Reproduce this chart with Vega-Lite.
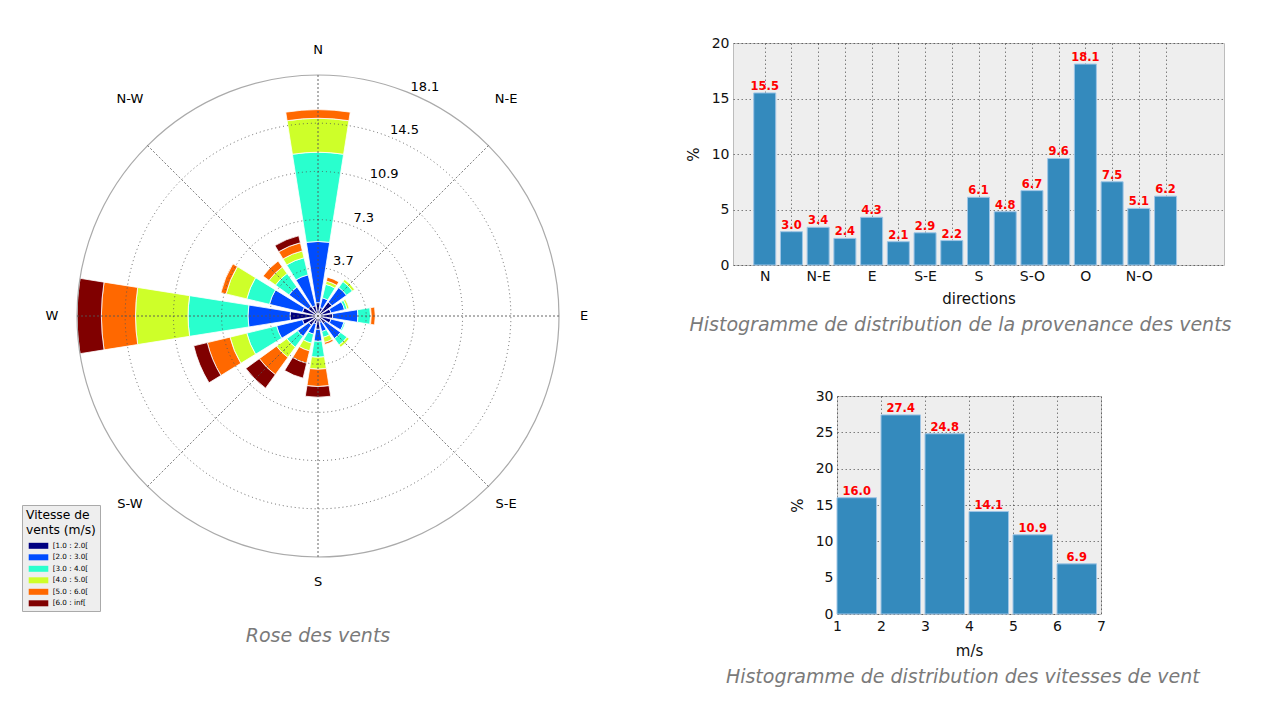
{
  "$schema": "https://vega.github.io/schema/vega-lite/v6.json",
  "padding": {"left": 10, "top": 35, "right": 0, "bottom": 0},
  "background": "white",
  "datasets": {
    "rose": [
      {"angle": 0, "speed": "[1.0 : 2.0[", "order": 1, "pct": 1.0},
      {"angle": 0, "speed": "[2.0 : 3.0[", "order": 2, "pct": 4.6},
      {"angle": 0, "speed": "[3.0 : 4.0[", "order": 3, "pct": 6.7},
      {"angle": 0, "speed": "[4.0 : 5.0[", "order": 4, "pct": 2.55},
      {"angle": 0, "speed": "[5.0 : 6.0[", "order": 5, "pct": 0.65},
      {"angle": 22.5, "speed": "[1.0 : 2.0[", "order": 1, "pct": 0.65},
      {"angle": 22.5, "speed": "[2.0 : 3.0[", "order": 2, "pct": 0.75},
      {"angle": 22.5, "speed": "[3.0 : 4.0[", "order": 3, "pct": 1.05},
      {"angle": 22.5, "speed": "[4.0 : 5.0[", "order": 4, "pct": 0.25},
      {"angle": 22.5, "speed": "[5.0 : 6.0[", "order": 5, "pct": 0.3},
      {"angle": 45, "speed": "[1.0 : 2.0[", "order": 1, "pct": 1.3},
      {"angle": 45, "speed": "[2.0 : 3.0[", "order": 2, "pct": 1.35},
      {"angle": 45, "speed": "[3.0 : 4.0[", "order": 3, "pct": 0.55},
      {"angle": 45, "speed": "[4.0 : 5.0[", "order": 4, "pct": 0.2},
      {"angle": 67.5, "speed": "[1.0 : 2.0[", "order": 1, "pct": 1.0},
      {"angle": 67.5, "speed": "[2.0 : 3.0[", "order": 2, "pct": 1.05},
      {"angle": 67.5, "speed": "[3.0 : 4.0[", "order": 3, "pct": 0.2},
      {"angle": 67.5, "speed": "[4.0 : 5.0[", "order": 4, "pct": 0.15},
      {"angle": 90, "speed": "[1.0 : 2.0[", "order": 1, "pct": 1.1},
      {"angle": 90, "speed": "[2.0 : 3.0[", "order": 2, "pct": 1.9},
      {"angle": 90, "speed": "[3.0 : 4.0[", "order": 3, "pct": 0.95},
      {"angle": 90, "speed": "[4.0 : 5.0[", "order": 4, "pct": 0.05},
      {"angle": 90, "speed": "[5.0 : 6.0[", "order": 5, "pct": 0.3},
      {"angle": 112.5, "speed": "[1.0 : 2.0[", "order": 1, "pct": 1.0},
      {"angle": 112.5, "speed": "[2.0 : 3.0[", "order": 2, "pct": 1.0},
      {"angle": 112.5, "speed": "[3.0 : 4.0[", "order": 3, "pct": 0.1},
      {"angle": 135, "speed": "[1.0 : 2.0[", "order": 1, "pct": 0.7},
      {"angle": 135, "speed": "[2.0 : 3.0[", "order": 2, "pct": 1.4},
      {"angle": 135, "speed": "[3.0 : 4.0[", "order": 3, "pct": 0.6},
      {"angle": 135, "speed": "[4.0 : 5.0[", "order": 4, "pct": 0.2},
      {"angle": 157.5, "speed": "[1.0 : 2.0[", "order": 1, "pct": 0.5},
      {"angle": 157.5, "speed": "[2.0 : 3.0[", "order": 2, "pct": 0.7},
      {"angle": 157.5, "speed": "[3.0 : 4.0[", "order": 3, "pct": 0.45},
      {"angle": 157.5, "speed": "[4.0 : 5.0[", "order": 4, "pct": 0.4},
      {"angle": 157.5, "speed": "[5.0 : 6.0[", "order": 5, "pct": 0.15},
      {"angle": 180, "speed": "[1.0 : 2.0[", "order": 1, "pct": 1.0},
      {"angle": 180, "speed": "[2.0 : 3.0[", "order": 2, "pct": 0.9},
      {"angle": 180, "speed": "[3.0 : 4.0[", "order": 3, "pct": 1.2},
      {"angle": 180, "speed": "[4.0 : 5.0[", "order": 4, "pct": 0.9},
      {"angle": 180, "speed": "[5.0 : 6.0[", "order": 5, "pct": 1.3},
      {"angle": 180, "speed": "[6.0 : inf[", "order": 6, "pct": 0.8},
      {"angle": 202.5, "speed": "[1.0 : 2.0[", "order": 1, "pct": 0.6},
      {"angle": 202.5, "speed": "[2.0 : 3.0[", "order": 2, "pct": 0.8},
      {"angle": 202.5, "speed": "[3.0 : 4.0[", "order": 3, "pct": 0.7},
      {"angle": 202.5, "speed": "[4.0 : 5.0[", "order": 4, "pct": 0.6},
      {"angle": 202.5, "speed": "[5.0 : 6.0[", "order": 5, "pct": 0.95},
      {"angle": 202.5, "speed": "[6.0 : inf[", "order": 6, "pct": 1.15},
      {"angle": 225, "speed": "[1.0 : 2.0[", "order": 1, "pct": 0.85},
      {"angle": 225, "speed": "[2.0 : 3.0[", "order": 2, "pct": 1.05},
      {"angle": 225, "speed": "[3.0 : 4.0[", "order": 3, "pct": 1.0},
      {"angle": 225, "speed": "[4.0 : 5.0[", "order": 4, "pct": 0.95},
      {"angle": 225, "speed": "[5.0 : 6.0[", "order": 5, "pct": 1.6},
      {"angle": 225, "speed": "[6.0 : inf[", "order": 6, "pct": 1.25},
      {"angle": 247.5, "speed": "[1.0 : 2.0[", "order": 1, "pct": 1.2},
      {"angle": 247.5, "speed": "[2.0 : 3.0[", "order": 2, "pct": 2.0},
      {"angle": 247.5, "speed": "[3.0 : 4.0[", "order": 3, "pct": 2.3},
      {"angle": 247.5, "speed": "[4.0 : 5.0[", "order": 4, "pct": 1.3},
      {"angle": 247.5, "speed": "[5.0 : 6.0[", "order": 5, "pct": 1.75},
      {"angle": 247.5, "speed": "[6.0 : inf[", "order": 6, "pct": 1.05},
      {"angle": 270, "speed": "[1.0 : 2.0[", "order": 1, "pct": 2.1},
      {"angle": 270, "speed": "[2.0 : 3.0[", "order": 2, "pct": 3.16},
      {"angle": 270, "speed": "[3.0 : 4.0[", "order": 3, "pct": 4.5},
      {"angle": 270, "speed": "[4.0 : 5.0[", "order": 4, "pct": 3.95},
      {"angle": 270, "speed": "[5.0 : 6.0[", "order": 5, "pct": 2.56},
      {"angle": 270, "speed": "[6.0 : inf[", "order": 6, "pct": 1.83},
      {"angle": 292.5, "speed": "[1.0 : 2.0[", "order": 1, "pct": 1.2},
      {"angle": 292.5, "speed": "[2.0 : 3.0[", "order": 2, "pct": 2.55},
      {"angle": 292.5, "speed": "[3.0 : 4.0[", "order": 3, "pct": 1.75},
      {"angle": 292.5, "speed": "[4.0 : 5.0[", "order": 4, "pct": 1.6},
      {"angle": 292.5, "speed": "[5.0 : 6.0[", "order": 5, "pct": 0.4},
      {"angle": 315, "speed": "[1.0 : 2.0[", "order": 1, "pct": 0.9},
      {"angle": 315, "speed": "[2.0 : 3.0[", "order": 2, "pct": 1.8},
      {"angle": 315, "speed": "[3.0 : 4.0[", "order": 3, "pct": 1.25},
      {"angle": 315, "speed": "[4.0 : 5.0[", "order": 4, "pct": 0.6},
      {"angle": 315, "speed": "[5.0 : 6.0[", "order": 5, "pct": 0.55},
      {"angle": 337.5, "speed": "[1.0 : 2.0[", "order": 1, "pct": 0.8},
      {"angle": 337.5, "speed": "[2.0 : 3.0[", "order": 2, "pct": 2.38},
      {"angle": 337.5, "speed": "[3.0 : 4.0[", "order": 3, "pct": 1.32},
      {"angle": 337.5, "speed": "[4.0 : 5.0[", "order": 4, "pct": 0.53},
      {"angle": 337.5, "speed": "[5.0 : 6.0[", "order": 5, "pct": 0.63},
      {"angle": 337.5, "speed": "[6.0 : inf[", "order": 6, "pct": 0.54}
    ],
    "rings": [
      {"r": 3.62, "label": "3.7"},
      {"r": 7.24, "label": "7.3"},
      {"r": 10.86, "label": "10.9"},
      {"r": 14.48, "label": "14.5"},
      {"r": 18.1, "label": "18.1"}
    ],
    "compass": [
      {"angle": 0, "label": "N"},
      {"angle": 45, "label": "N-E"},
      {"angle": 90, "label": "E"},
      {"angle": 135, "label": "S-E"},
      {"angle": 180, "label": "S"},
      {"angle": 225, "label": "S-W"},
      {"angle": 270, "label": "W"},
      {"angle": 315, "label": "N-W"}
    ],
    "dirs": [
      {"idx": 1, "dir": "N", "pct": 15.5},
      {"idx": 2, "dir": "NNE", "pct": 3.0},
      {"idx": 3, "dir": "N-E", "pct": 3.4},
      {"idx": 4, "dir": "ENE", "pct": 2.4},
      {"idx": 5, "dir": "E", "pct": 4.3},
      {"idx": 6, "dir": "ESE", "pct": 2.1},
      {"idx": 7, "dir": "S-E", "pct": 2.9},
      {"idx": 8, "dir": "SSE", "pct": 2.2},
      {"idx": 9, "dir": "S", "pct": 6.1},
      {"idx": 10, "dir": "SSO", "pct": 4.8},
      {"idx": 11, "dir": "S-O", "pct": 6.7},
      {"idx": 12, "dir": "OSO", "pct": 9.6},
      {"idx": 13, "dir": "O", "pct": 18.1},
      {"idx": 14, "dir": "ONO", "pct": 7.5},
      {"idx": 15, "dir": "N-O", "pct": 5.1},
      {"idx": 16, "dir": "NNO", "pct": 6.2}
    ],
    "speeds": [
      {"start": 1, "end": 2, "pct": 16.0},
      {"start": 2, "end": 3, "pct": 27.4},
      {"start": 3, "end": 4, "pct": 24.8},
      {"start": 4, "end": 5, "pct": 14.1},
      {"start": 5, "end": 6, "pct": 10.9},
      {"start": 6, "end": 7, "pct": 6.9}
    ]
  },
  "spacing": 59,
  "hconcat": [
    {
      "width": 616,
      "height": 546,
      "view": {"stroke": null},
      "title": {"text": "Rose des vents", "orient": "bottom", "anchor": "middle", "offset": 38},
      "layer": [
        {
          "data": {"name": "rose"},
          "transform": [
            {"stack": "pct", "groupby": ["angle"], "sort": [{"field": "order", "order": "ascending"}], "as": ["r0", "r1"]}
          ],
          "mark": {"type": "arc", "thetaOffset": -0.157, "theta2Offset": 0.157, "stroke": "white", "strokeWidth": 0.8},
          "encoding": {
            "theta": {"field": "angle", "type": "quantitative", "stack": null, "scale": {"domain": [0, 360], "range": [0, 6.283185307179586]}},
            "theta2": {"field": "angle"},
            "radius": {"field": "r1", "type": "quantitative", "stack": null, "scale": {"type": "linear", "domain": [0, 18.1], "range": [0, 241], "zero": true, "nice": false}},
            "radius2": {"field": "r0"},
            "color": {
              "field": "speed",
              "type": "nominal",
              "scale": {
                "domain": ["[1.0 : 2.0[", "[2.0 : 3.0[", "[3.0 : 4.0[", "[4.0 : 5.0[", "[5.0 : 6.0[", "[6.0 : inf["],
                "range": ["#000080", "#004cff", "#29ffce", "#ceff29", "#ff6800", "#800000"]
              },
              "legend": {
                "orient": "none",
                "legendX": 12,
                "legendY": 462,
                "title": ["Vitesse de", "vents (m/s)"],
                "titleFont": "DejaVu Sans",
                "titleFontSize": 12.3,
                "titleFontWeight": "normal",
                "titleColor": "black",
                "titleLineHeight": 15,
                "titlePadding": 4,
                "labelFont": "DejaVu Sans",
                "labelFontSize": 7.2,
                "labelColor": "black",
                "labelOffset": 8.7,
                "symbolType": "M-1.78,-0.545H1.78V0.545H-1.78Z",
                "symbolSize": 121,
                "symbolStrokeWidth": 0,
                "symbolOffset": 7,
                "rowPadding": 2.5,
                "fillColor": "#eeeeee",
                "strokeColor": "#aaaaaa",
                "padding": 4,
                "cornerRadius": 0
              }
            }
          }
        },
        {
          "data": {"name": "rings"},
          "transform": [{"filter": "datum.r < 18"}],
          "mark": {"type": "arc", "theta": 0, "theta2": 6.2832, "fill": "transparent", "stroke": "#555555", "strokeWidth": 0.9, "strokeDash": [1, 3]},
          "encoding": {
            "radius": {"field": "r", "type": "quantitative", "stack": null, "scale": {"type": "linear", "domain": [0, 18.1], "range": [0, 241], "zero": true, "nice": false}}
          }
        },
        {
          "data": {"name": "rings"},
          "transform": [{"filter": "datum.r > 18"}],
          "mark": {"type": "arc", "theta": 0, "theta2": 6.2832, "fill": "transparent", "stroke": "#aaaaaa", "strokeWidth": 1.2},
          "encoding": {
            "radius": {"field": "r", "type": "quantitative", "stack": null, "scale": {"type": "linear", "domain": [0, 18.1], "range": [0, 241], "zero": true, "nice": false}}
          }
        },
        {
          "data": {"name": "compass"},
          "mark": {"type": "arc", "fill": "transparent", "stroke": "#555555", "strokeWidth": 0.9, "strokeDash": [1, 3]},
          "encoding": {
            "theta": {"field": "angle", "type": "quantitative", "stack": null, "scale": {"domain": [0, 360], "range": [0, 6.283185307179586]}},
            "theta2": {"field": "angle"},
            "radius": {"datum": 18.1, "type": "quantitative", "stack": null, "scale": {"type": "linear", "domain": [0, 18.1], "range": [0, 241], "zero": true, "nice": false}},
            "radius2": {"datum": 0}
          }
        },
        {
          "data": {"name": "compass"},
          "transform": [{"filter": "datum.angle != 45 && datum.angle != 315"}],
          "mark": {"type": "text", "font": "DejaVu Sans", "fontSize": 13, "color": "black"},
          "encoding": {
            "theta": {"field": "angle", "type": "quantitative", "stack": null, "scale": {"domain": [0, 360], "range": [0, 6.283185307179586]}},
            "radius": {"value": 266},
            "text": {"field": "label"}
          }
        },
        {
          "data": {"name": "compass"},
          "transform": [{"filter": "datum.angle == 45 || datum.angle == 315"}],
          "mark": {"type": "text", "font": "DejaVu Sans", "fontSize": 13, "color": "black", "dy": -29},
          "encoding": {
            "theta": {"field": "angle", "type": "quantitative", "stack": null, "scale": {"domain": [0, 360], "range": [0, 6.283185307179586]}},
            "radius": {"value": 266},
            "text": {"field": "label"}
          }
        },
        {
          "data": {"name": "rings"},
          "mark": {"type": "text", "font": "DejaVu Sans", "fontSize": 13, "color": "black", "radiusOffset": 12},
          "encoding": {
            "theta": {"value": 0.436},
            "radius": {"field": "r", "type": "quantitative", "stack": null, "scale": {"type": "linear", "domain": [0, 18.1], "range": [0, 241], "zero": true, "nice": false}},
            "text": {"field": "label"}
          }
        }
      ]
    },
    {
      "title": {"text": "Histogramme de distribution des vitesses de vent", "orient": "bottom", "anchor": "middle", "frame": "bounds", "offset": 9, "dx": 4},
      "spacing": 52,
      "vconcat": [
        {
          "width": 491,
          "height": 222,
          "view": {"fill": "#eeeeee", "stroke": "#bcbcbc"},
          "data": {"name": "dirs"},
          "title": {"text": "Histogramme de distribution de la provenance des vents", "orient": "bottom", "anchor": "middle", "frame": "group", "dx": -18, "offset": 10},
          "encoding": {
            "x": {
              "field": "idx",
              "type": "quantitative",
              "scale": {"domain": [0, 18], "nice": false, "zero": false},
              "axis": {
                "values": [1, 2, 3, 4, 5, 6, 7, 8, 9, 10, 11, 12, 13, 14, 15, 16],
                "labelExpr": "['', 'N', '', 'N-E', '', 'E', '', 'S-E', '', 'S', '', 'S-O', '', 'O', '', 'N-O', ''][datum.value]",
                "title": "directions",
                "labelPadding": 4,
                "titlePadding": 8,
                "labelOverlap": false
              }
            },
            "y": {
              "field": "pct",
              "type": "quantitative",
              "scale": {"domain": [0, 20], "nice": false},
              "axis": {"values": [0, 5, 10, 15, 20], "title": "%", "labelPadding": 4, "titlePadding": 10}
            }
          },
          "layer": [
            {"mark": {"type": "bar", "size": 22, "color": "#348abd", "stroke": "#9ec5e6", "strokeWidth": 1}},
            {
              "mark": {"type": "text", "color": "#ff0000", "font": "DejaVu Sans", "fontWeight": "bold", "fontSize": 11.5, "baseline": "bottom", "dy": -1},
              "encoding": {"text": {"field": "pct", "type": "quantitative", "format": ".1f"}}
            }
          ]
        },
        {
          "spacing": 52,
          "hconcat": [
            {
              "width": 1,
              "height": 218,
              "view": {"stroke": null},
              "data": {"values": [{"blank": 0}]},
              "mark": {"type": "point", "opacity": 0}
            },
            {
              "width": 264,
              "height": 218,
              "view": {"fill": "#eeeeee", "stroke": "#bcbcbc"},
              "data": {"name": "speeds"},
              "encoding": {
                "x": {
                  "field": "start",
                  "type": "quantitative",
                  "scale": {"domain": [1, 7], "nice": false, "zero": false},
                  "axis": {"values": [1, 2, 3, 4, 5, 6, 7], "format": "d", "title": "m/s", "labelPadding": 5, "titlePadding": 10}
                },
                "y": {
                  "field": "pct",
                  "type": "quantitative",
                  "scale": {"domain": [0, 30], "nice": false},
                  "axis": {"values": [0, 5, 10, 15, 20, 25, 30], "title": "%", "labelPadding": 4, "titlePadding": 10}
                }
              },
              "layer": [
                {
                  "mark": {"type": "bar", "x2Offset": -4.5, "color": "#348abd", "stroke": "#9ec5e6", "strokeWidth": 1},
                  "encoding": {"x2": {"field": "end"}, "y2": {"datum": 0}}
                },
                {
                  "mark": {"type": "text", "color": "#ff0000", "font": "DejaVu Sans", "fontWeight": "bold", "fontSize": 11.5, "baseline": "bottom", "dy": -1, "dx": 19.8},
                  "encoding": {"text": {"field": "pct", "type": "quantitative", "format": ".1f"}}
                }
              ]
            }
          ]
        }
      ]
    }
  ],
  "config": {
    "font": "DejaVu Sans",
    "view": {"stroke": null},
    "title": {"font": "DejaVu Sans", "fontSize": 19, "fontStyle": "italic", "fontWeight": 200, "color": "#7a7a7a"},
    "axis": {
      "labelFont": "DejaVu Sans",
      "labelFontSize": 14,
      "labelColor": "#111111",
      "labelFlush": false,
      "titleFont": "DejaVu Sans",
      "titleFontSize": 15,
      "titleFontWeight": "normal",
      "titleColor": "#111111",
      "grid": true,
      "gridColor": "#000000",
      "gridDash": [1.5, 2.5],
      "gridWidth": 0.6,
      "gridOpacity": 0.8,
      "domain": false,
      "ticks": false,
      "zindex": 1
    }
  }
}
